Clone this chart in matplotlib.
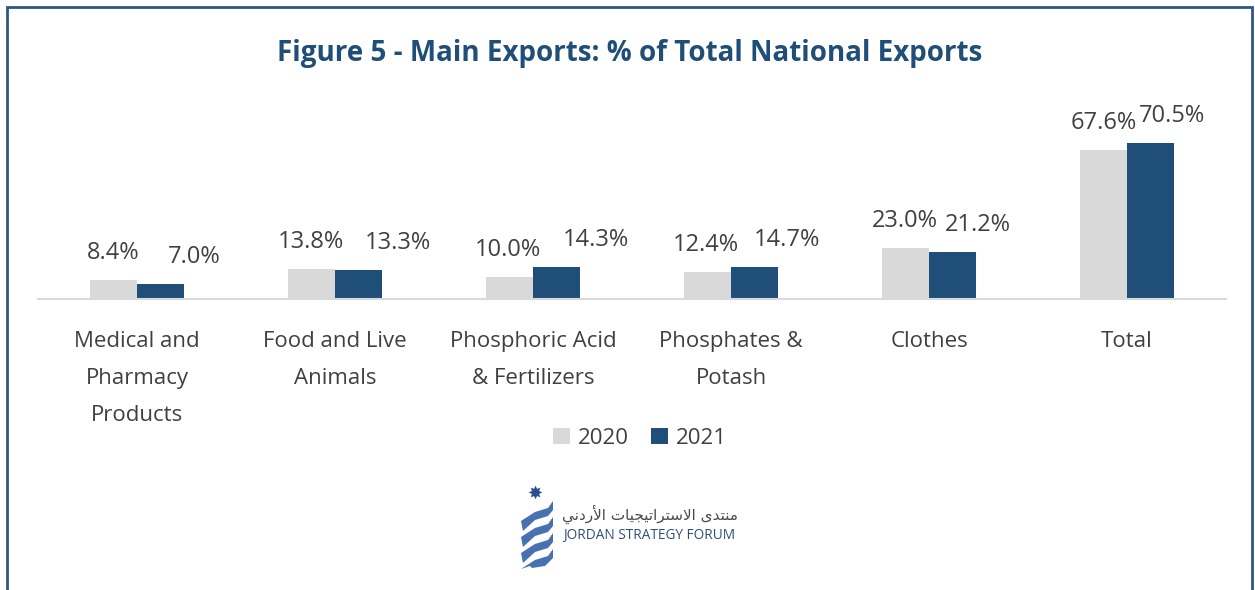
import numpy as np
import matplotlib
matplotlib.use("Agg")
import matplotlib.pyplot as plt
import matplotlib.patches as mpatches

# data
categories = ["Medical and\nPharmacy\nProducts", "Food and Live\nAnimals",
              "Phosphoric Acid\n& Fertilizers", "Phosphates &\nPotash", "Clothes", "Total"]
exports_2020 = [8.4, 13.8, 10.0, 12.4, 23.0, 67.6]
exports_2021 = [7.0, 13.3, 14.3, 14.7, 21.2, 70.5]
years = ["2020", "2021"]

# label nudges (pixels) so the value labels sit like the original
shift_2020 = [0, -1, -2, -2, -1, 0]
shift_2021 = [34, 39, 39, 33, 25, 22]

W, H = 1255, 590
c2020 = "#d9d9d9"
c2021 = "#1f4e79"
txt = "#404040"
plt.rcParams["font.family"] = ["Open Sans", "DejaVu Sans"]

fig = plt.figure(figsize=(W / 100, H / 100), dpi=100)


def fx(x):
    return x / W


def fy(y):
    return 1 - y / H


# outer frame
fig.add_artist(mpatches.Rectangle((fx(7), fy(620)), fx(1252) - fx(7), fy(7) - fy(620),
                                  transform=fig.transFigure, fill=False,
                                  edgecolor="#2b5686", lw=2))

fig.text(fx(630), fy(53), "Figure 5 - Main Exports: % of Total National Exports",
         ha="center", va="center", fontsize=20, fontweight="bold", color="#1f4e79")

ymax = 80
ax = fig.add_axes([fx(38), fy(299), fx(1226) - fx(38), ymax * 2.21 / H])
x = np.arange(len(categories))
w = 0.237
b1 = ax.bar(x - w / 2, exports_2020, w, color=c2020, label=years[0])
b2 = ax.bar(x + w / 2, exports_2021, w, color=c2021, label=years[1])
ax.set_xlim(-0.5, len(categories) - 0.5)
ax.set_ylim(0, ymax)

for i, v in enumerate(exports_2020):
    ax.annotate(f"{v:.1f}%", (x[i] - w / 2, v), xytext=(shift_2020[i], 27),
                textcoords="offset pixels", ha="center", va="center",
                fontsize=17, color=txt, annotation_clip=False)
for i, v in enumerate(exports_2021):
    ax.annotate(f"{v:.1f}%", (x[i] + w / 2, v), xytext=(shift_2021[i], 27),
                textcoords="offset pixels", ha="center", va="center",
                fontsize=17, color=txt, annotation_clip=False)

for s in ["top", "right", "left"]:
    ax.spines[s].set_visible(False)
ax.spines["bottom"].set_color("#d9d9d9")
ax.spines["bottom"].set_linewidth(1.5)
ax.set_yticks([])
ax.set_xticks(x)
ax.set_xticklabels(categories, fontsize=16, color=txt, linespacing=2.0)
ax.tick_params(axis="x", length=0, pad=23)
ax.patch.set_alpha(0)

fig.legend(handles=[b1, b2], labels=years, loc="center",
           bbox_to_anchor=(fx(640), fy(438)), ncol=2, frameon=False,
           fontsize=16, handlelength=0.75, handleheight=0.75,
           handletextpad=0.35, columnspacing=1.0, labelcolor=txt)

# logo: star + ribbons + names
fig.text(fx(535), fy(494), "\u2738", ha="center", va="center", fontsize=13,
         color="#2a4f8f", family="DejaVu Sans")
for k, y0 in enumerate([506, 522, 538, 554]):
    top = [(521, y0 + 15), (535, y0 + 6), (548, y0 + 2), (553, y0 - 5)]
    bot = [(553, y0 + 4), (548, y0 + 10), (535, y0 + 14), (523, y0 + 25)]
    if k == 3:
        bot = [(553, y0 + 4), (545, y0 + 12), (532, y0 + 14), (530, y0 + 12)]
    pts = [(fx(a), fy(b)) for a, b in top + bot]
    fig.add_artist(mpatches.Polygon(pts, closed=True, transform=fig.transFigure,
                                    facecolor="#3561a8", edgecolor="none", alpha=0.9))

arabic = ("\ufef2\ufee7\ufea9\ufead\ufef7\ufe8d "
          "\ufe95\ufe8e\ufef4\ufea0\ufef4\ufe97\ufe8d\ufeae\ufe98\ufeb3\ufefb\ufe8d "
          "\ufeef\ufeaa\ufe98\ufee8\ufee3")
fig.text(fx(650), fy(514), arabic, ha="center", va="center", fontsize=11,
         color="#4a4a4a", family="DejaVu Sans")
fig.text(fx(649), fy(535), "JORDAN STRATEGY FORUM", ha="center", va="center",
         fontsize=9.8, color="#2f4f78")

fig.savefig("out.png", dpi=100)
